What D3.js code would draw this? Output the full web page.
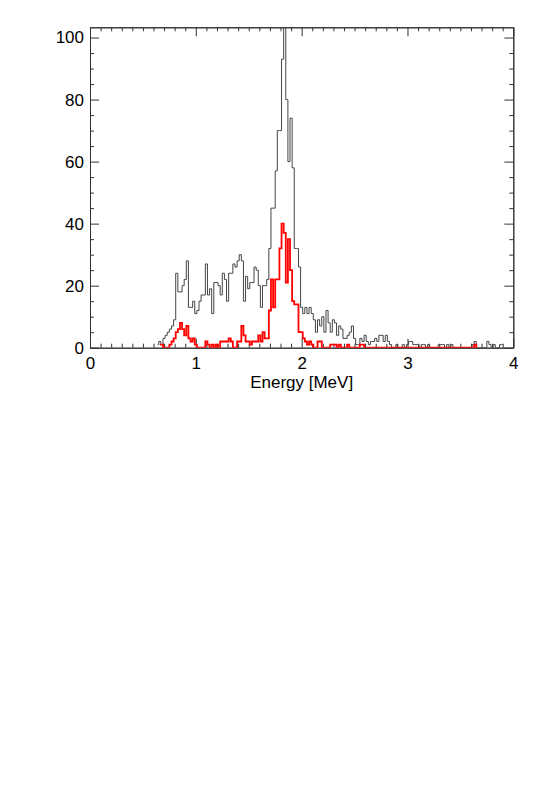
<!DOCTYPE html>
<html>
<head>
<meta charset="utf-8">
<script src="https://cdn.jsdelivr.net/npm/d3@7"></script>
<style>
body { margin: 0; background: #fff; }
svg text { font-family: "Liberation Sans", Arial, Helvetica, sans-serif; }
</style>
</head>
<body>
<script>
// histogram bins: 0.02 MeV wide, values given at the bin centres
var binWidth = 0.02;

// all events (grey), first bin centre at 0.64 MeV
var allStart = 0.64;
var allCounts = [
	1,2,1,3,4,5,6,7,9,
	24,18,18,20,22,28,13,13,15,11,
	12,15,17,17,27,17,19,11,21,21,
	20,17,24,22,15,24,24,27,26,28,
	30,28,15,23,19,21,21,26,25,20,
	13,20,20,22,32,45,45,57,70,70,
	93,110,80,60,74,58,32,32,26,13,
	11,13,11,13,11,9,5,9,7,10,
	5,12,8,5,9,8,4,7,6,3,
	3,4,5,7,3,1,1,3,2,4,
	2,1,2,2,3,2,4,4,2,4,
	2,1,0,0,1,0,0,1,0,1,
	2,2,1,1,1,0,1,1,0,1,
	0,0,0,0,1,1,1,0,1,0,
	1,0,0,0,0,0,0,0,0,0,
	1,2,0,0,0,0,0,2,1,0,
	1,0,0,1,1
];

// selected events (red), first bin centre at 0.66 MeV
var selStart = 0.66;
var selCounts = [
	1,1,0,0,0,1,2,3,
	5,6,8,6,4,7,3,2,3,1,
	0,0,0,0,2,1,0,1,0,1,
	0,2,2,2,2,3,2,0,0,2,
	2,7,4,2,2,1,2,2,2,4,
	2,5,3,3,12,22,13,22,22,32,
	40,37,21,35,25,15,14,14,5,5,
	3,2,1,2,1,0,0,2,2,0,
	0,0,0,1,1,1,0,1,0,0,
	0,1,0,0,0,0,0,1,1,0,
	0,0,0,0,0,0,0,0,0,0,
	0,0,0,0,0,0,0,0,0,0,
	0,0,0,0,0,0,0,0,0,0,
	0,0,0,0,0,0,0,0,0,0,
	0,0,0,0,0,0,0,0,0,0,
	0,1,0
];

var xTicks = [0, 1, 2, 3, 4];
var yTicks = [0, 20, 40, 60, 80, 100];
var xTitle = "Energy [MeV]";

var W = 540, H = 810;
var plotLeft = 90, plotRight = 513.3, plotTop = 27.3, plotBottom = 347.7;

var svg = d3.select("body").append("svg")
	.attr("width", W)
	.attr("height", H);

svg.append("rect").attr("width", W).attr("height", H).attr("fill", "#fff");

var x = d3.scaleLinear().domain([0, 4]).range([plotLeft, plotRight]);
var y = d3.scaleLinear().domain([0, 103.3]).range([plotBottom, plotTop]);

var xMinor = d3.range(0, 4.0001, 0.1).filter(function(v) { return Math.abs(v - Math.round(v)) > 1e-6; });
var yMinor = d3.range(0, 103, 5).filter(function(v) { return v % 20 != 0; });

function styleAxis(g) {
	g.selectAll("path,line").attr("stroke", "#333").attr("stroke-width", 1);
	g.selectAll("text").attr("fill", "#000").style("font-size", "17px");
}

// bottom
svg.append("g").attr("transform", "translate(0," + plotBottom + ")")
	.call(d3.axisBottom(x).tickValues(xTicks).tickSize(-9).tickSizeOuter(0).tickPadding(9).tickFormat(d3.format("d")))
	.call(styleAxis);
svg.append("g").attr("transform", "translate(0," + plotBottom + ")")
	.call(d3.axisBottom(x).tickValues(xMinor).tickSize(-4).tickSizeOuter(0).tickFormat(""))
	.call(styleAxis);
// top
svg.append("g").attr("transform", "translate(0," + plotTop + ")")
	.call(d3.axisTop(x).tickValues(xTicks).tickSize(-9).tickSizeOuter(0).tickFormat(""))
	.call(styleAxis);
svg.append("g").attr("transform", "translate(0," + plotTop + ")")
	.call(d3.axisTop(x).tickValues(xMinor).tickSize(-4).tickSizeOuter(0).tickFormat(""))
	.call(styleAxis);
// left
svg.append("g").attr("transform", "translate(" + plotLeft + ",0)")
	.call(d3.axisLeft(y).tickValues(yTicks).tickSize(-9).tickSizeOuter(0).tickPadding(6).tickFormat(d3.format("d")))
	.call(styleAxis);
svg.append("g").attr("transform", "translate(" + plotLeft + ",0)")
	.call(d3.axisLeft(y).tickValues(yMinor).tickSize(-4).tickSizeOuter(0).tickFormat(""))
	.call(styleAxis);
// right
svg.append("g").attr("transform", "translate(" + plotRight + ",0)")
	.call(d3.axisRight(y).tickValues(yTicks).tickSize(-9).tickSizeOuter(0).tickFormat(""))
	.call(styleAxis);
svg.append("g").attr("transform", "translate(" + plotRight + ",0)")
	.call(d3.axisRight(y).tickValues(yMinor).tickSize(-4).tickSizeOuter(0).tickFormat(""))
	.call(styleAxis);

svg.append("text")
	.attr("x", (plotLeft + plotRight) / 2)
	.attr("y", 388)
	.attr("text-anchor", "middle")
	.style("font-size", "17px")
	.text(xTitle);

// clip so the peak is cut at the frame
svg.append("clipPath").attr("id", "plotClip")
	.append("rect")
	.attr("x", plotLeft).attr("y", plotTop)
	.attr("width", plotRight - plotLeft).attr("height", plotBottom - plotTop);

function toPoints(start, counts) {
	return counts.map(function(c, i) { return { e: start + i * binWidth, c: c }; });
}

var line = d3.line()
	.x(function(d) { return x(d.e); })
	.y(function(d) { return y(d.c); })
	.curve(d3.curveStep);

var plot = svg.append("g").attr("clip-path", "url(#plotClip)");

plot.append("path")
	.datum(toPoints(allStart, allCounts))
	.attr("d", line)
	.attr("fill", "none")
	.attr("stroke", "#444")
	.attr("stroke-width", 1);

plot.append("path")
	.datum(toPoints(selStart, selCounts))
	.attr("d", line)
	.attr("fill", "none")
	.attr("stroke", "#ff0000")
	.attr("stroke-width", 1.8);
</script>
</body>
</html>
